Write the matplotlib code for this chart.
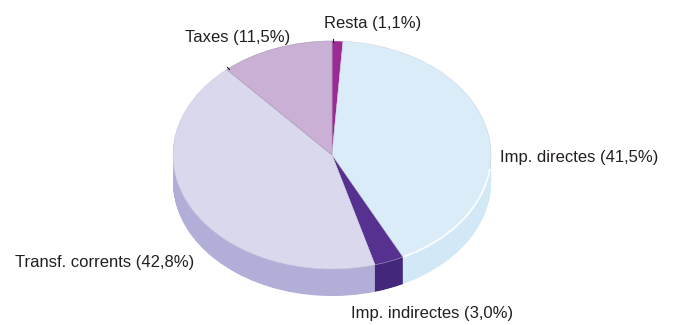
import matplotlib
matplotlib.use("Agg")
import matplotlib.pyplot as plt
from matplotlib.patches import Arc

# Budget shares (%)
categories = ["Resta", "Imp. directes", "Imp. indirectes", "Transf. corrents", "Taxes"]
values = [1.1, 41.5, 3.0, 42.8, 11.5]
labels = ["Resta (1,1%)", "Imp. directes (41,5%)", "Imp. indirectes (3,0%)",
          "Transf. corrents (42,8%)", "Taxes (11,5%)"]

top_colors = ["#9b2b92", "#d9ecf8", "#56318f", "#dad8ec", "#c9b0d4"]
side_colors = ["#7a1f72", "#d3e8f6", "#43277a", "#b1aed7", "#a98fb8"]

W, H = 673, 325
fig = plt.figure(figsize=(W / 100, H / 100), dpi=100)

# Pie axes: top face ellipse spans 318 x 228 px, with a 27 px thick side
depth_px = 27
left_px, top_px, w_px, h_top = 173, 41, 318, 228
ax = fig.add_axes([left_px / W, (H - (top_px + h_top + depth_px)) / H,
                   w_px / W, (h_top + depth_px) / H])
py = 2.0 / h_top  # data units per pixel (vertical)

# Side wall: stack of shifted pies in darker shades
n_layers = depth_px * 2
for k in range(n_layers, 0, -1):
    off = k * 0.5 * py
    ax.pie(values, colors=side_colors, startangle=90, counterclock=False,
           center=(0, -off), radius=1, frame=True,
           wedgeprops=dict(linewidth=0, antialiased=True))

# Top face
wedges, _ = ax.pie(values, colors=top_colors, startangle=90, counterclock=False,
                   center=(0, 0), radius=1, frame=True,
                   wedgeprops=dict(linewidth=0.3, edgecolor="#cfcbe0",
                                   antialiased=True))
# slightly darker seam on the Taxes slice
wedges[4].set_edgecolor("#a59bb5")
wedges[4].set_linewidth(0.4)
wedges[4].set_zorder(wedges[3].get_zorder() + 0.1)

# White rim along the front of the largest light slice
total = sum(values)
end_dir = 90 - 360 * (values[0] + values[1]) / total
ax.add_patch(Arc((0, 0), 2, 2, theta1=end_dir, theta2=-7, color="white", lw=1.2))

ax.set_aspect("auto")
ax.set_xlim(-1, 1)
ax.set_ylim(-1 - depth_px * py, 1)
ax.axis("off")

# Overlay axes in pixel coordinates for labels
tx = fig.add_axes([0, 0, 1, 1])
tx.set_xlim(0, W)
tx.set_ylim(H, 0)
tx.axis("off")
tx.patch.set_alpha(0)

txt_kw = dict(fontsize=12, color="#231f20", family="Liberation Sans",
              ha="left", va="baseline")
positions = [(324, 28), (500, 162), (351, 318), (15, 267), (185, 42)]
for lab, (x, y) in zip(labels, positions):
    tx.text(x, y, lab, **txt_kw)

# short leader ticks
tx.plot([333, 333], [39, 41.5], color="#231f20", lw=0.8)
tx.plot([227.5, 229.5], [67.5, 69.5], color="#231f20", lw=0.8)

fig.savefig("out.png", dpi=100)
